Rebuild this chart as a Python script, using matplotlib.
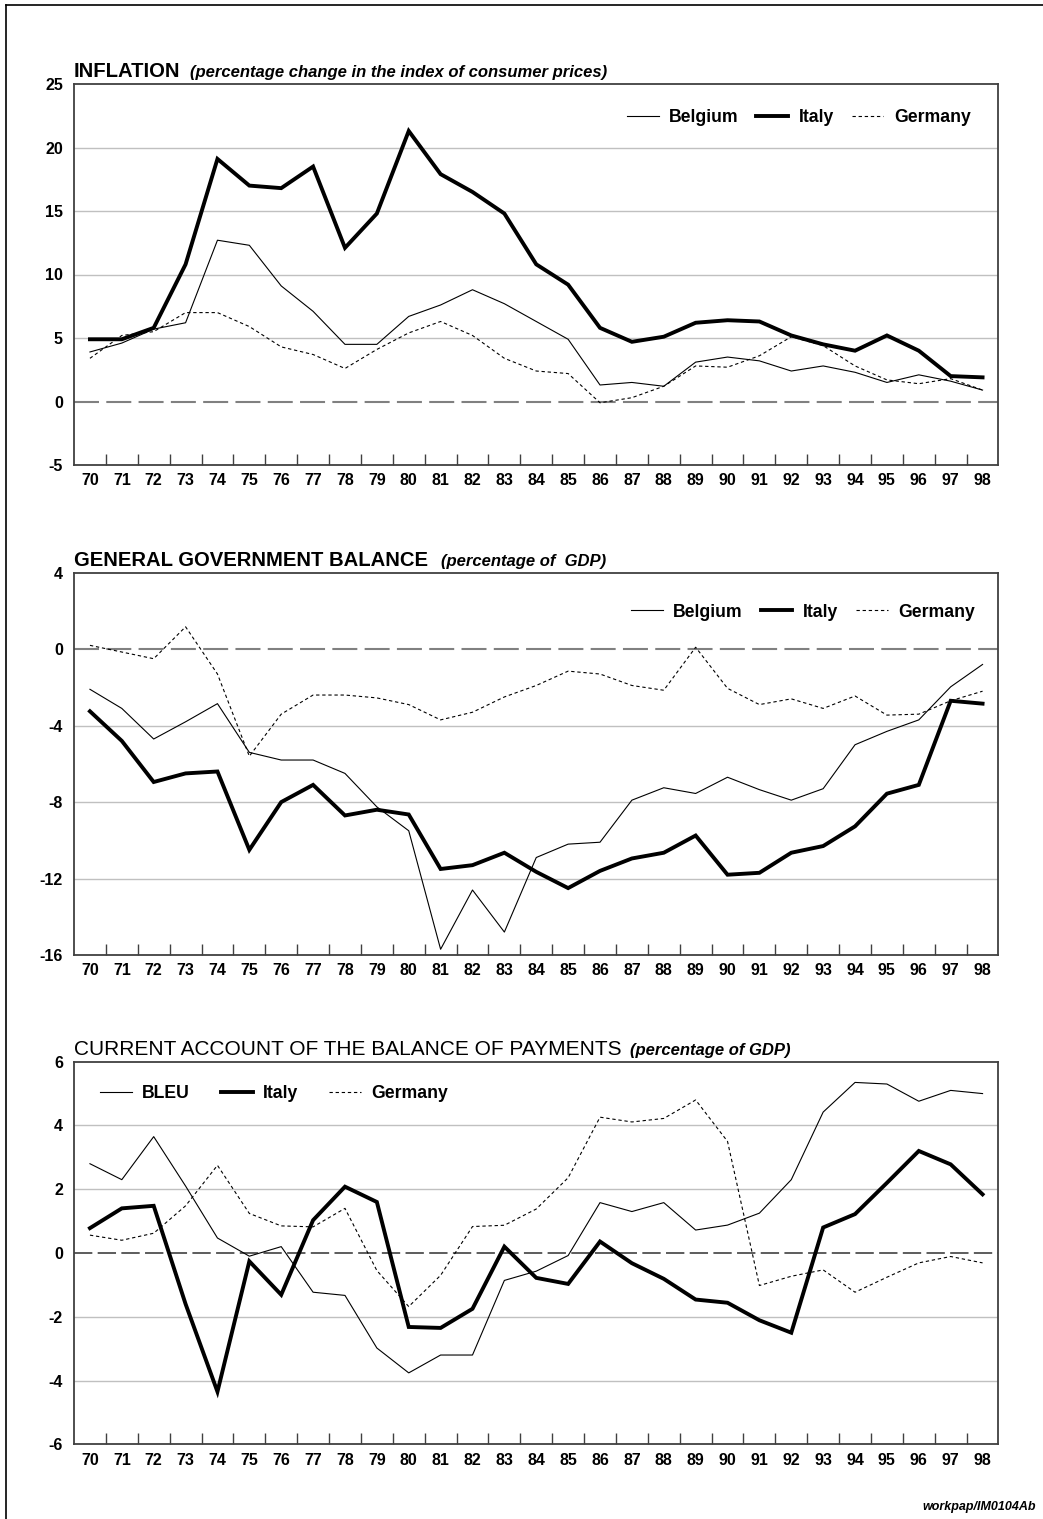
import matplotlib
matplotlib.use("Agg")
import matplotlib.pyplot as plt
from matplotlib.lines import Line2D

plt.rcParams['font.family'] = ['Liberation Sans', 'DejaVu Sans']

years = [str(y) for y in range(70, 99)]

# Inflation (% change in CPI)
infl_belgium = [3.9, 4.6, 5.7, 6.2, 12.7, 12.3, 9.1, 7.1, 4.5, 4.5, 6.7, 7.6, 8.8, 7.7,
                6.3, 4.9, 1.3, 1.5, 1.2, 3.1, 3.5, 3.2, 2.4, 2.8, 2.3, 1.5, 2.1, 1.6, 0.9]
infl_italy = [4.9, 4.9, 5.8, 10.8, 19.1, 17.0, 16.8, 18.5, 12.1, 14.8, 21.3, 17.9, 16.5, 14.8,
              10.8, 9.2, 5.8, 4.7, 5.1, 6.2, 6.4, 6.3, 5.2, 4.5, 4.0, 5.2, 4.0, 2.0, 1.9]
infl_germany = [3.4, 5.2, 5.5, 7.0, 7.0, 5.9, 4.3, 3.7, 2.6, 4.1, 5.4, 6.3, 5.2, 3.4,
                2.4, 2.2, -0.1, 0.3, 1.2, 2.8, 2.7, 3.6, 5.1, 4.4, 2.8, 1.7, 1.4, 1.8, 0.9]

# General government balance (% of GDP)
gov_belgium = [-2.1, -3.1, -4.7, -3.8, -2.85, -5.4, -5.8, -5.8, -6.5, -8.25, -9.5, -15.7, -12.6, -14.8,
               -10.9, -10.2, -10.1, -7.9, -7.25, -7.55, -6.7, -7.35, -7.9, -7.3, -5.0, -4.3, -3.7, -1.97, -0.8]
gov_italy = [-3.25, -4.8, -6.95, -6.5, -6.4, -10.5, -8.0, -7.1, -8.7, -8.4, -8.65, -11.5, -11.3, -10.65,
             -11.65, -12.5, -11.6, -10.95, -10.65, -9.75, -11.8, -11.7, -10.65, -10.3, -9.27, -7.56, -7.1, -2.7, -2.85]
gov_germany = [0.2, -0.15, -0.5, 1.17, -1.3, -5.6, -3.4, -2.4, -2.4, -2.55, -2.9, -3.7, -3.3, -2.5,
               -1.9, -1.15, -1.3, -1.9, -2.15, 0.1, -2.05, -2.9, -2.6, -3.1, -2.45, -3.45, -3.4, -2.7, -2.2]

# Current account (% of GDP)
ca_bleu = [2.8, 2.3, 3.65, 2.1, 0.47, -0.1, 0.2, -1.23, -1.33, -2.98, -3.76, -3.2, -3.2, -0.86,
           -0.57, -0.08, 1.58, 1.3, 1.58, 0.72, 0.875, 1.25, 2.3, 4.42, 5.35, 5.3, 4.76, 5.1, 5.0]
ca_italy = [0.78, 1.4, 1.48, -1.6, -4.35, -0.26, -1.31, 1.03, 2.08, 1.6, -2.32, -2.35, -1.75, 0.2,
            -0.78, -0.97, 0.36, -0.32, -0.81, -1.46, -1.56, -2.11, -2.5, 0.8, 1.22, 2.2, 3.2, 2.78, 1.84]
ca_germany = [0.56, 0.4, 0.62, 1.48, 2.75, 1.24, 0.85, 0.82, 1.4, -0.55, -1.68, -0.7, 0.83, 0.87,
              1.38, 2.36, 4.26, 4.11, 4.22, 4.8, 3.5, -1.02, -0.73, -0.53, -1.23, -0.76, -0.31, -0.11, -0.31]

W, H = 1043, 1519
fig = plt.figure(figsize=(W / 100, H / 100), dpi=100)

# outer frame (left and top lines)
fig.add_artist(Line2D([6 / W, 6 / W], [0, 1 - 5 / H], transform=fig.transFigure, color='black', lw=1.2))
fig.add_artist(Line2D([6 / W, 1], [1 - 5 / H, 1 - 5 / H], transform=fig.transFigure, color='black', lw=1.2))

left = 74 / W
width = (998.5 - 74) / W


def make_axes(top_px, bottom_px):
    return fig.add_axes([left, 1 - bottom_px / H, width, (bottom_px - top_px) / H])


def style(ax, ylim, yticks, grid_vals, zero_color, zero_lw):
    x = list(range(len(years)))
    ax.set_xlim(-0.5, len(years) - 0.5)
    ax.set_ylim(*ylim)
    ax.set_xticks(x)
    ax.set_xticklabels(years, fontsize=11.5, fontweight='bold')
    ax.set_xticks([i + 0.5 for i in range(len(years) - 1)], minor=True)
    ax.tick_params(axis='x', which='major', length=0, pad=6)
    ax.tick_params(axis='x', which='minor', direction='in', length=8, width=1, color='#404040')
    ax.set_yticks(yticks)
    ax.set_yticklabels([str(v) for v in yticks], fontsize=11.5, fontweight='bold')
    ax.tick_params(axis='y', length=0, pad=8)
    for g in grid_vals:
        ax.axhline(g, color='#c0c0c0', lw=1.0, zorder=0)
    ax.axhline(0, color=zero_color, lw=zero_lw, dashes=(12, 3.5), zorder=1)
    for s in ax.spines.values():
        s.set_color('#404040')
        s.set_linewidth(1.3)
    return x


def plot_series(ax, x, a, b, c, labels, anchor, colsp):
    l1, = ax.plot(x, a, color='black', lw=0.8, label=labels[0], zorder=3)
    l2, = ax.plot(x, b, color='black', lw=2.8, label=labels[1], zorder=4, solid_joinstyle='miter')
    l3, = ax.plot(x, c, color='black', lw=0.8, dashes=(3, 2.5), label=labels[2], zorder=3)
    leg = ax.legend(handles=[l1, l2, l3], ncol=3, frameon=False, loc='center left',
                    bbox_to_anchor=anchor, borderpad=0, borderaxespad=0,
                    handlelength=1.8, handletextpad=0.6, columnspacing=colsp,
                    prop={'weight': 'bold', 'size': 12.7})
    return leg


def title(ax, main_text, italic_text, gap_px, bold=True, size=14.6):
    y = 1.0 + 7 / 382
    t = ax.text(0.0, y, main_text, transform=ax.transAxes, fontsize=size,
                fontweight='bold' if bold else 'normal', ha='left', va='baseline')
    fig.canvas.draw()
    bb = t.get_window_extent()
    x_end = ax.transAxes.inverted().transform((bb.x1 + gap_px, bb.y0))[0]
    ax.text(x_end, y, italic_text, transform=ax.transAxes, fontsize=12,
            fontweight='bold', fontstyle='italic', ha='left', va='baseline')


# Panel 1: inflation
ax1 = make_axes(84, 465)
x = style(ax1, (-5, 25), [-5, 0, 5, 10, 15, 20, 25], [5, 10, 15, 20], '#808080', 1.5)
plot_series(ax1, x, infl_belgium, infl_italy, infl_germany, ['Belgium', 'Italy', 'Germany'],
            (0.598, 0.911), 1.0)
title(ax1, 'INFLATION', '(percentage change in the index of consumer prices)', 10)

# Panel 2: general government balance
ax2 = make_axes(572.7, 955)
x = style(ax2, (-16, 4), [-16, -12, -8, -4, 0, 4], [-12, -8, -4], '#808080', 1.5)
plot_series(ax2, x, gov_belgium, gov_italy, gov_germany, ['Belgium', 'Italy', 'Germany'],
            (0.6025, 0.897), 1.0)
title(ax2, 'GENERAL GOVERNMENT BALANCE', '(percentage of  GDP)', 13)

# Panel 3: current account
ax3 = make_axes(1061.7, 1444.3)
x = style(ax3, (-6, 6), [-6, -4, -2, 0, 2, 4, 6], [-4, -2, 2, 4], '#303030', 1.1)
plot_series(ax3, x, ca_bleu, ca_italy, ca_germany, ['BLEU', 'Italy', 'Germany'],
            (0.028, 0.9156), 1.75)
title(ax3, 'CURRENT ACCOUNT OF THE BALANCE OF PAYMENTS', '(percentage of GDP)', 8, bold=False, size=15)

fig.text(1036 / W, 1 - 1507 / H, 'workpap/IM0104Ab', fontsize=9, fontweight='bold',
         fontstyle='italic', ha='right', va='center')

fig.savefig('out.png', dpi=100)
